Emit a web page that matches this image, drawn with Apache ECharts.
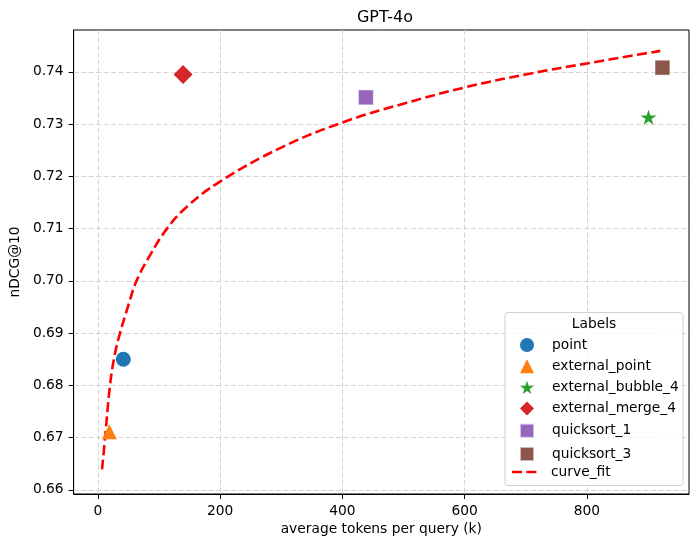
<!DOCTYPE html>
<html>
<head>
<meta charset="utf-8">
<script src="https://cdn.jsdelivr.net/npm/echarts@6/dist/echarts.min.js"></script>
<style>
  html, body { margin: 0; padding: 0; background: #fff; }
  #main { width: 700px; height: 545px; }
</style>
</head>
<body>
<div id="main"></div>
<script>
// scatter points, one per method
var labels = ['point', 'external_point', 'external_bubble_4', 'external_merge_4', 'quicksort_1', 'quicksort_3'];
var tokens = [41.8, 19, 900.8, 139.5, 438.5, 923.6];
var ndcg = [0.6850, 0.6711, 0.7313, 0.7395, 0.7351, 0.7408];

// fitted curve
var fitTokens = [7, 12, 20, 28, 36.4, 50, 63.4, 86, 112, 144, 200, 300, 400, 500, 600, 700, 800, 920];
var fitNdcg = [0.6639, 0.6700, 0.6800, 0.6860, 0.6900, 0.6953, 0.7000, 0.7050, 0.7098, 0.7140,
  0.7190, 0.7255, 0.7303, 0.7339, 0.7370, 0.7395, 0.7416, 0.7440];

var xTicks = [0, 200, 400, 600, 800];
var yTicks = [0.66, 0.67, 0.68, 0.69, 0.70, 0.71, 0.72, 0.73, 0.74];

var colors = ['#1f77b4', '#ff7f0e', '#2ca02c', '#d62728', '#9467bd', '#8c564b'];
var star = 'path://M100 0 L122.45 69.1 L195.1 69.1 L136.33 111.8 L158.8 180.9 L100 138.2 L41.2 180.9 L63.67 111.8 L4.9 69.1 L77.55 69.1 Z';
var symbols = ['circle', 'triangle', star, 'diamond', 'rect', 'rect'];
var sizes = [15, 15, 16, 19, 15, 15];

var font = 'DejaVu Sans';

var series = labels.map(function (name, i) {
  return {
    name: name,
    type: 'scatter',
    data: [[tokens[i], ndcg[i]]],
    symbol: symbols[i],
    symbolSize: sizes[i],
    symbolKeepAspect: true,
    itemStyle: { color: colors[i], opacity: 1, borderColor: i >= 4 ? 'rgba(255,255,255,0.6)' : null, borderWidth: i >= 4 ? 1 : 0 },
    z: 3
  };
});

series.push({
  name: 'curve_fit',
  type: 'line',
  data: fitTokens.map(function (x, i) { return [x, fitNdcg[i]]; }),
  smooth: 0.4,
  showSymbol: false,
  symbol: 'none',
  lineStyle: { color: '#ff0000', width: 2.6, type: [10, 4.4] },
  itemStyle: { color: '#ff0000' },
  z: 2
});

var chart = echarts.init(document.getElementById('main'));

var legendText = { fontFamily: font, fontSize: 13.8, color: '#000', lineHeight: 14, height: 14 };

chart.setOption({
  animation: false,
  textStyle: { fontFamily: font },
  title: [
    {
      text: 'GPT-4o',
      left: 380, top: 5, textAlign: 'center',
      textStyle: { fontFamily: font, fontSize: 16, fontWeight: 'normal', color: '#000' }
    }
  ],
  grid: {
    left: 70, right: 11, top: 30, bottom: 51,
    show: true, borderColor: '#000', borderWidth: 1
  },
  xAxis: {
    type: 'value',
    min: -39.5, max: 967,
    name: 'average tokens per query (k)',
    nameLocation: 'middle',
    nameGap: 27,
    nameTextStyle: { fontFamily: font, fontSize: 13.8, color: '#000' },
    axisLine: { show: true, onZero: false, lineStyle: { color: '#000', width: 1 } },
    axisTick: { show: true, length: 5, customValues: xTicks, lineStyle: { color: '#000' } },
    axisLabel: { customValues: xTicks, margin: 10, fontFamily: font, fontSize: 13.8, color: '#000' },
    splitLine: { show: true, lineStyle: { color: '#d3d3d3', type: [5, 2.5], width: 1 } }
  },
  yAxis: {
    type: 'value',
    min: 0.6592, max: 0.748,
    name: 'nDCG@10',
    nameLocation: 'middle',
    nameRotate: 90,
    nameGap: 40,
    nameTextStyle: { fontFamily: font, fontSize: 13.8, color: '#000' },
    axisLine: { show: true, onZero: false, lineStyle: { color: '#000', width: 1 } },
    axisTick: { show: true, length: 5, customValues: yTicks, lineStyle: { color: '#000' } },
    axisLabel: {
      customValues: yTicks, margin: 10, fontFamily: font, fontSize: 13.8, color: '#000',
      formatter: function (v) { return v.toFixed(2); }
    },
    splitLine: { show: true, lineStyle: { color: '#d3d3d3', type: [5, 2.5], width: 1 } }
  },
  graphic: [
    {
      type: 'rect', z: 3,
      shape: { x: 505, y: 312.5, width: 178, height: 173, r: 3 },
      style: { fill: 'rgba(255,255,255,0.8)', stroke: '#d0d0d0', lineWidth: 1 }
    },
    {
      type: 'text', z: 4,
      x: 594, y: 324,
      style: { text: 'Labels', font: '13.8px "DejaVu Sans"', fill: '#000', align: 'center', verticalAlign: 'middle' }
    },
    // dashed key for curve_fit
    {
      type: 'line', z: 4,
      shape: { x1: 512, y1: 472, x2: 536.5, y2: 472 },
      style: { stroke: '#ff0000', lineWidth: 2.6, lineDash: [10, 4.4] }
    }
  ],
  legend: [
    {
      orient: 'vertical',
      left: 519, top: 338,
      padding: 0,
      itemWidth: 14, itemHeight: 14, itemGap: 7.2,
      z: 5,
      data: labels,
      textStyle: Object.assign({ padding: [0, 0, 0, 13] }, legendText)
    },
    {
      orient: 'vertical',
      left: 512, top: 465,
      padding: 0,
      itemWidth: 24, itemHeight: 14,
      z: 5,
      data: [{ name: 'curve_fit', icon: 'none' }],
      textStyle: Object.assign({ padding: [0, 0, 0, 10] }, legendText)
    }
  ],
  series: series
});
</script>
</body>
</html>
